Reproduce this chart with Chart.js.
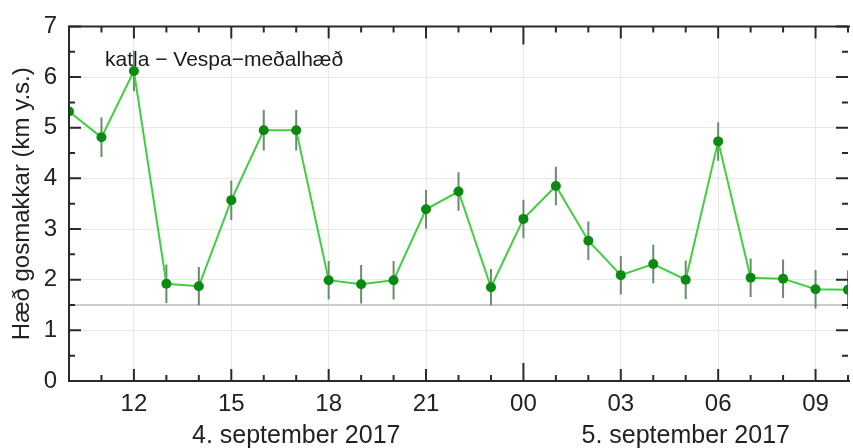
<!DOCTYPE html>
<html>
<head>
<meta charset="utf-8">
<script src="https://cdn.jsdelivr.net/npm/chart.js@4/dist/chart.umd.min.js"></script>
<style>
  html, body { margin: 0; padding: 0; background: #fff; }
  canvas { display: block; }
</style>
</head>
<body>
<canvas id="plume" width="853" height="448"></canvas>
<script>
// Hourly plume height (km above sea level), 4.–5. september 2017
const hours = [10, 11, 12, 13, 14, 15, 16, 17, 18, 19, 20, 21, 22, 23, 24, 25, 26, 27, 28, 29, 30, 31, 32, 33, 34];
const heights = [5.32, 4.81, 6.12, 1.92, 1.87, 3.57, 4.95, 4.95, 1.99, 1.91, 1.99, 3.39, 3.74, 1.85, 3.20, 3.85, 2.77, 2.09, 2.31, 2.00, 4.73, 2.04, 2.02, 1.81, 1.80];
const spread = [0.38, 0.39, 0.40, 0.38, 0.38, 0.39, 0.40, 0.40, 0.38, 0.38, 0.38, 0.38, 0.38, 0.36, 0.38, 0.38, 0.38, 0.38, 0.38, 0.38, 0.38, 0.38, 0.38, 0.38, 0.38];

const hourTicks = [12, 15, 18, 21, 24, 27, 30, 33];
const hourTickLabels = ['12', '15', '18', '21', '00', '03', '06', '09'];
const heightTicks = [0, 1, 2, 3, 4, 5, 6, 7];
const dateLabels = ['4. september 2017', '5. september 2017'];
const dateCenters = [17, 29];
const plumeFloor = 1.5;
const seriesName = 'katla \u2212 Vespa\u2212meðalhæð';
const yTitle = 'Hæð gosmakkar (km y.s.)';

const FONT = "'Liberation Sans', Arial, sans-serif";
const INK = '#222';

const decorations = {
  id: 'decorations',
  beforeDatasetsDraw(chart) {
    const { ctx, chartArea: a, scales: { x, y } } = chart;
    ctx.save();
    ctx.beginPath();
    ctx.rect(a.left, a.top, a.right - a.left, a.bottom - a.top);
    ctx.clip();

    // reference level
    const yf = y.getPixelForValue(plumeFloor);
    ctx.strokeStyle = '#cccccc';
    ctx.lineWidth = 2;
    ctx.beginPath();
    ctx.moveTo(a.left, yf);
    ctx.lineTo(a.right, yf);
    ctx.stroke();

    // series name inside the plot
    ctx.fillStyle = '#1a1a1a';
    ctx.font = '21px ' + FONT;
    ctx.textAlign = 'left';
    ctx.textBaseline = 'middle';
    ctx.fillText(seriesName, 105, 60);

    // uncertainty bars
    ctx.strokeStyle = '#6a8c6a';
    ctx.lineWidth = 2;
    hours.forEach((h, i) => {
      const px = x.getPixelForValue(h);
      ctx.beginPath();
      ctx.moveTo(px, y.getPixelForValue(heights[i] + spread[i]));
      ctx.lineTo(px, y.getPixelForValue(heights[i] - spread[i]));
      ctx.stroke();
    });
    ctx.restore();
  },
  afterDatasetsDraw(chart) {
    const { ctx, chartArea: a, scales: { x, y } } = chart;
    ctx.save();
    ctx.strokeStyle = '#2a2a2a';
    ctx.lineWidth = 2;

    // frame
    ctx.beginPath();
    ctx.moveTo(a.right + 2, a.top);
    ctx.lineTo(a.left, a.top);
    ctx.lineTo(a.left, a.bottom);
    ctx.lineTo(a.right + 2, a.bottom);
    ctx.stroke();

    // inward tick marks on the time axis (bottom and top)
    ctx.beginPath();
    for (let h = x.min; h <= x.max; h++) {
      const len = h % 24 === 0 ? 18 : (h % 3 === 0 ? 12 : 6);
      const px = x.getPixelForValue(h);
      ctx.moveTo(px, a.bottom);
      ctx.lineTo(px, a.bottom - len);
      ctx.moveTo(px, a.top);
      ctx.lineTo(px, a.top + len);
    }
    // inward tick marks on the height axis (left and right)
    for (let v = y.min; v <= y.max; v += 0.5) {
      const len = Number.isInteger(v) ? 12 : 6;
      const py = y.getPixelForValue(v);
      ctx.moveTo(a.left, py);
      ctx.lineTo(a.left + len, py);
      ctx.moveTo(a.right, py);
      ctx.lineTo(a.right - len, py);
    }
    ctx.stroke();
    ctx.restore();
  },
  afterDraw(chart) {
    const { ctx, scales: { x } } = chart;
    ctx.save();
    ctx.fillStyle = INK;
    ctx.font = '25px ' + FONT;
    ctx.textAlign = 'center';
    ctx.textBaseline = 'alphabetic';
    dateLabels.forEach((t, i) => {
      ctx.fillText(t, x.getPixelForValue(dateCenters[i]), 443);
    });
    ctx.restore();
  }
};

new Chart(document.getElementById('plume'), {
  type: 'line',
  data: {
    datasets: [{
      label: seriesName,
      data: hours.map((h, i) => ({ x: h, y: heights[i] })),
      borderColor: '#3fcf3f',
      borderWidth: 2,
      backgroundColor: '#0b8a12',
      pointBackgroundColor: '#0b8a12',
      pointBorderWidth: 0,
      pointRadius: 5,
      tension: 0,
      clip: 0
    }]
  },
  options: {
    responsive: false,
    animation: false,
    events: [],
    layout: { padding: { top: 19, right: 0, left: 0, bottom: 0 } },
    plugins: {
      legend: { display: false },
      tooltip: { enabled: false },
      title: { display: false }
    },
    scales: {
      x: {
        type: 'linear',
        min: 10,
        max: 34,
        afterBuildTicks: s => { s.ticks = hourTicks.map(v => ({ value: v })); },
        afterFit: s => { s.height = 67; },
        border: { display: false },
        grid: { color: '#e8e8e8', lineWidth: 1, drawTicks: false },
        ticks: {
          color: INK,
          font: { family: FONT, size: 24 },
          padding: 9,
          maxRotation: 0,
          autoSkip: false,
          callback: v => hourTickLabels[hourTicks.indexOf(v)]
        }
      },
      y: {
        min: 0,
        max: 7,
        afterBuildTicks: s => { s.ticks = heightTicks.map(v => ({ value: v })); },
        afterFit: s => { s.width = 69; },
        border: { display: false },
        grid: { color: '#e8e8e8', lineWidth: 1, drawTicks: false },
        ticks: {
          color: INK,
          font: { family: FONT, size: 24 },
          padding: 12
        },
        title: {
          display: true,
          text: yTitle,
          color: INK,
          font: { family: FONT, size: 24 },
          padding: { top: 8, bottom: 0 }
        }
      }
    }
  },
  plugins: [decorations]
});
</script>
</body>
</html>
